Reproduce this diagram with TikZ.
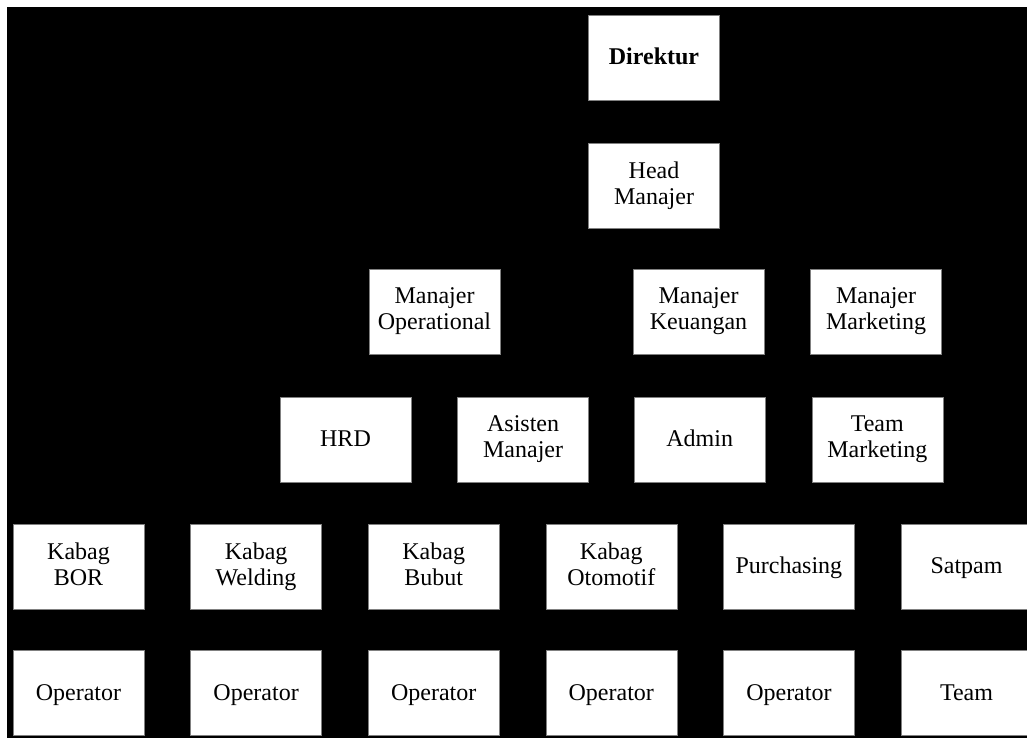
\documentclass[tikz,border=0pt]{standalone}
\usepackage{fontspec}
\setmainfont{Liberation Serif}
\usetikzlibrary{positioning}
\newcommand{\boxstrut}{\rule[-5pt]{0pt}{24pt}}

\begin{document}
\begin{tikzpicture}[x=1pt, y=-1pt, node distance={46pt}, box/.style = {draw=gray, fill=white, line width=0.6pt, minimum width=131pt, minimum height=85pt, inner sep=0pt, align=center, font=\fontsize{24}{26}\selectfont, execute at begin node=\boxstrut, execute at end node=\boxstrut}]
    \useasboundingbox (0,0) rectangle (1027,738);
    \fill[white] (0,0) rectangle (1027,738);
    \fill[black] (7,7) rectangle (1027,738);
    \node[box] (dir) at (654,57.5) {\textbf{Direktur}};
    \node[box] (head) [below=43pt of dir] {Head\\Manajer};
    \node[box] (mop) at (434.5,311.5) {Manajer\\Operational};
    \node[box] (mkeu) at (698.5,311.5) {Manajer\\Keuangan};
    \node[box] (mmkt) [right=of mkeu] {Manajer\\Marketing};
    \node[box] (hrd) at (345.5,439.5) {HRD};
    \node[box] (asis) [right=of hrd] {Asisten\\Manajer};
    \node[box] (admin) [right=45pt of asis] {Admin};
    \node[box] (tmkt) [right=of admin] {Team\\Marketing};
    \node[box] (bor) at (78.5,566.5) {Kabag\\BOR};
    \node[box] (weld) [right=of bor] {Kabag\\Welding};
    \node[box] (bubut) [right=of weld] {Kabag\\Bubut};
    \node[box] (oto) [right=of bubut] {Kabag\\Otomotif};
    \node[box] (purch) [right=of oto] {Purchasing};
    \node[box] (satpam) [right=of purch] {Satpam};
    \node[box] (opa) [below=41pt of bor] {Operator};
    \node[box] (opb) [below=41pt of weld] {Operator};
    \node[box] (opc) [below=41pt of bubut] {Operator};
    \node[box] (opd) [below=41pt of oto] {Operator};
    \node[box] (ope) [below=41pt of purch] {Operator};
    \node[box] (team) [below=41pt of satpam] {Team};
\end{tikzpicture}
\end{document}
